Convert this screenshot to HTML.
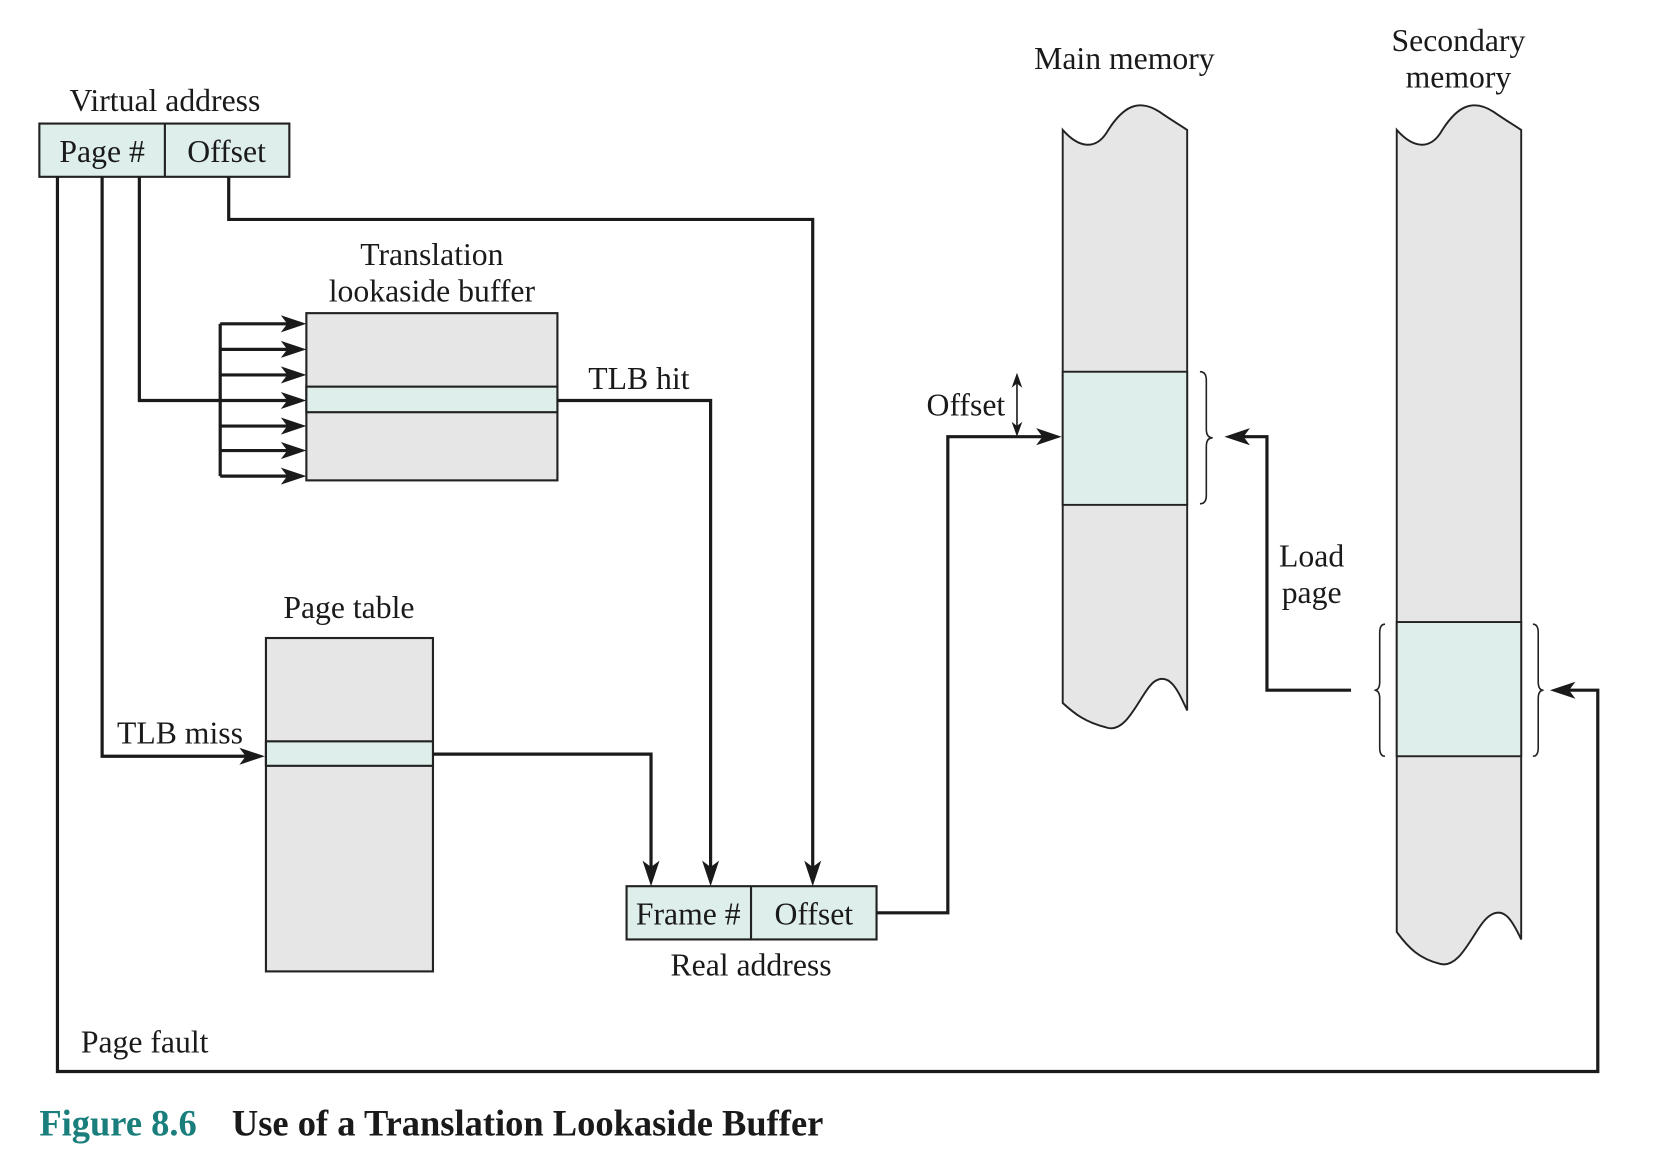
<!DOCTYPE html>
<html><head><meta charset="utf-8"><style>
html,body{margin:0;padding:0;background:#fff;}
svg{display:block;}
text{font-family:"Liberation Serif",serif;fill:#1a1a1a;}
</style></head><body>
<svg width="1668" height="1161" viewBox="0 0 1568 1090" preserveAspectRatio="none" xmlns="http://www.w3.org/2000/svg">
<g font-size="29.8">
<text x="155" y="104" text-anchor="middle">Virtual address</text>
<rect x="37" y="116" width="235" height="50" fill="#deeeea" stroke="#222" stroke-width="2"/>
<line x1="155" y1="116" x2="155" y2="166" stroke="#222" stroke-width="2"/>
<text x="96" y="152" text-anchor="middle">Page #</text>
<text x="213" y="152" text-anchor="middle">Offset</text>

<text x="406" y="249" text-anchor="middle">Translation</text>
<text x="406" y="283" text-anchor="middle">lookaside buffer</text>
<rect x="288" y="294" width="236" height="157" fill="#e6e6e6" stroke="#222" stroke-width="2"/>
<rect x="288" y="363" width="236" height="24" fill="#deeeea" stroke="#222" stroke-width="2"/>

<text x="328" y="580" text-anchor="middle">Page table</text>
<rect x="250" y="599" width="157" height="313" fill="#e6e6e6" stroke="#222" stroke-width="2"/>
<rect x="250" y="696" width="157" height="23" fill="#deeeea" stroke="#222" stroke-width="2"/>

<rect x="589" y="832" width="235" height="50" fill="#deeeea" stroke="#222" stroke-width="2"/>
<line x1="706" y1="832" x2="706" y2="882" stroke="#222" stroke-width="2"/>
<text x="647" y="868" text-anchor="middle">Frame #</text>
<text x="765" y="868" text-anchor="middle">Offset</text>
<text x="706" y="916" text-anchor="middle">Real address</text>

<text x="1057" y="65" text-anchor="middle">Main memory</text>
<path d="M999,122 C1015,140 1030,140 1040,125 C1055,100 1070,92 1090,105 C1100,112 1110,118 1116,122 L1116,667 C1108,650 1100,630 1085,640 C1072,650 1060,690 1040,683 C1020,678 1010,670 999,660 Z" fill="#e6e6e6" stroke="#222" stroke-width="1.8"/>
<rect x="999" y="349" width="117" height="125" fill="#deeeea" stroke="#222" stroke-width="1.8"/>
<path d="M1128,349 q6,0 6,8 l0,46 q0,8 6,8 q-6,0 -6,8 l0,46 q0,8 -6,8" fill="none" stroke="#222" stroke-width="1.5"/>

<text x="1371" y="48" text-anchor="middle">Secondary</text>
<text x="1371" y="82" text-anchor="middle">memory</text>
<path d="M1313,122 C1329,140 1344,140 1354,125 C1369,100 1384,92 1404,105 C1414,112 1424,118 1430,122 L1430,882 C1422,865 1414,850 1400,860 C1386,870 1374,910 1354,905 C1334,900 1324,890 1313,875 Z" fill="#e6e6e6" stroke="#222" stroke-width="1.8"/>
<rect x="1313" y="584" width="117" height="126" fill="#deeeea" stroke="#222" stroke-width="1.8"/>
<path d="M1302,586 q-5,0 -5,8 l0,46 q0,8 -5,8 q5,0 5,8 l0,46 q0,8 5,8" fill="none" stroke="#222" stroke-width="1.5"/>
<path d="M1441,586 q5,0 5,8 l0,46 q0,8 5,8 q-5,0 -5,8 l0,46 q0,8 -5,8" fill="none" stroke="#222" stroke-width="1.5"/>

<text x="553" y="365">TLB hit</text>
<text x="110" y="698">TLB miss</text>
<text x="871" y="390">Offset</text>
<text x="1233" y="532" text-anchor="middle">Load</text>
<text x="1233" y="566" text-anchor="middle">page</text>
<text x="76" y="988">Page fault</text>
</g>

<g fill="none" stroke="#1a1a1a" stroke-width="3">
<polyline points="54,166 54,1006 1502,1006 1502,648 1465,648"/>
<polyline points="96,166 96,710 240,710"/>
<polyline points="131,166 131,376 207,376"/>
<polyline points="215,166 215,206 764,206 764,822"/>
<line x1="207" y1="304" x2="207" y2="447"/>
<line x1="207" y1="304" x2="280" y2="304"/>
<line x1="207" y1="328" x2="280" y2="328"/>
<line x1="207" y1="352" x2="280" y2="352"/>
<line x1="207" y1="376" x2="280" y2="376"/>
<line x1="207" y1="400" x2="280" y2="400"/>
<line x1="207" y1="423" x2="280" y2="423"/>
<line x1="207" y1="447" x2="280" y2="447"/>
<polyline points="524,376 668,376 668,822"/>
<polyline points="407,708 612,708 612,822"/>
<polyline points="824,857 891,857 891,410 988,410"/>
<polyline points="1270,648 1191,648 1191,410 1160,410"/>
</g>
<g fill="#1a1a1a">
<path d="M288,304 l-24,-8 l6,8 l-6,8 z"/>
<path d="M288,328 l-24,-8 l6,8 l-6,8 z"/>
<path d="M288,352 l-24,-8 l6,8 l-6,8 z"/>
<path d="M288,376 l-24,-8 l6,8 l-6,8 z"/>
<path d="M288,400 l-24,-8 l6,8 l-6,8 z"/>
<path d="M288,423 l-24,-8 l6,8 l-6,8 z"/>
<path d="M288,447 l-24,-8 l6,8 l-6,8 z"/>
<path d="M249,710 l-24,-8 l6,8 l-6,8 z"/>
<path d="M612,832 l-8,-24 l8,6 l8,-6 z"/>
<path d="M668,832 l-8,-24 l8,6 l8,-6 z"/>
<path d="M764,832 l-8,-24 l8,6 l8,-6 z"/>
<path d="M998,410 l-24,-8 l6,8 l-6,8 z"/>
<path d="M1151,410 l24,-8 l-6,8 l6,8 z"/>
<path d="M1457,648 l24,-8 l-6,8 l6,8 z"/>
</g>
<line x1="956" y1="354" x2="956" y2="406" stroke="#1a1a1a" stroke-width="1.5"/>
<path d="M956,350 l-5,14 l5,-4 l5,4 z M956,410 l-5,-14 l5,4 l5,-4 z" fill="#1a1a1a"/>

<text x="37" y="1066" font-size="34.3" font-weight="bold" style="fill:#1a7f7c">Figure 8.6</text>
<text x="218" y="1066" font-size="34.3" font-weight="bold">Use of a Translation Lookaside Buffer</text>
</svg>
</body></html>
